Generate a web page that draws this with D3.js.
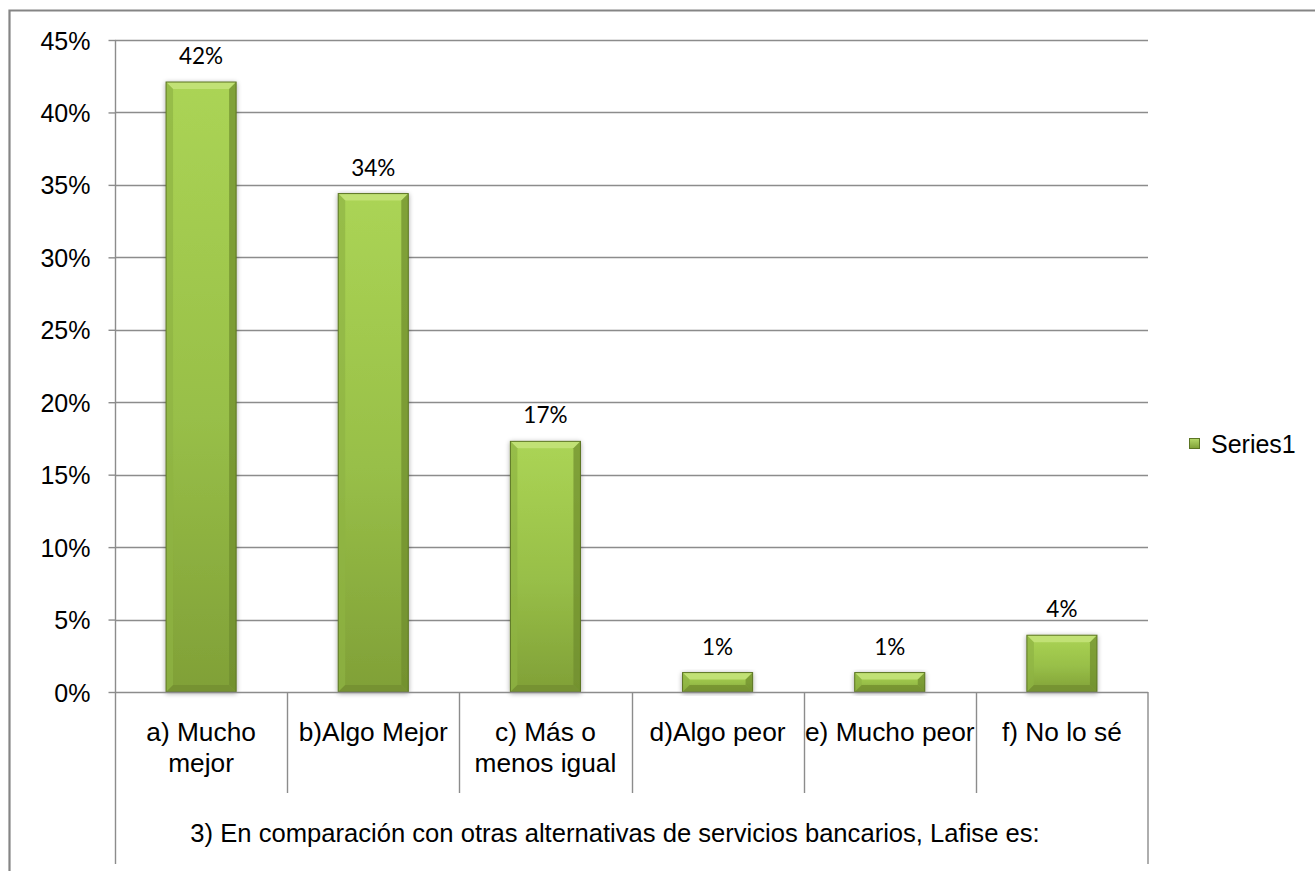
<!DOCTYPE html>
<html>
<head>
<meta charset="utf-8">
<script src="https://cdn.jsdelivr.net/npm/d3@7/dist/d3.min.js"></script>
<style>
  html, body { margin: 0; padding: 0; background: #fff; }
  svg { display: block; }
</style>
</head>
<body>
<svg id="chart" width="1315" height="871"></svg>
<script>
// ---- data ----
const categories = ["a) Mucho mejor", "b)Algo Mejor", "c) Más o menos igual", "d)Algo peor", "e) Mucho peor", "f) No lo sé"];
const categoryLines = [["a) Mucho", "mejor"], ["b)Algo Mejor"], ["c) Más o", "menos igual"], ["d)Algo peor"], ["e) Mucho peor"], ["f) No lo sé"]];
const values = [0.421, 0.344, 0.173, 0.0134, 0.0134, 0.0392];
const dataLabels = ["42%", "34%", "17%", "1%", "1%", "4%"];
const yTicks = [0, 0.05, 0.10, 0.15, 0.20, 0.25, 0.30, 0.35, 0.40, 0.45];
const seriesName = "Series1";
const axisTitle = "3) En comparación con otras alternativas de servicios bancarios, Lafise es:";

// ---- layout ----
const plotLeft = 115, plotRight = 1148, plotTop = 40, plotBottom = 692;
const svg = d3.select("#chart");
const gridColor = "#8c8c8c";
const axisFont = "'Liberation Sans', Arial, sans-serif";
const labelFont = "Lato, 'Open Sans', sans-serif";

const y = d3.scaleLinear().domain([0, 0.45]).range([plotBottom, plotTop]);
const xCat = d3.scaleBand().domain(categories).range([plotLeft, plotRight]).padding(0);
const xBar = d3.scaleBand().domain(categories).range([plotLeft, plotRight]).paddingInner(0.593).paddingOuter(0.2965);

// defs
const defs = svg.append("defs");
const g1 = defs.append("linearGradient").attr("id", "face").attr("x1", 0).attr("y1", 0).attr("x2", 0).attr("y2", 1);
g1.append("stop").attr("offset", "0%").attr("stop-color", "#abd455");
g1.append("stop").attr("offset", "55%").attr("stop-color", "#98bf48");
g1.append("stop").attr("offset", "100%").attr("stop-color", "#80a037");
const g2 = defs.append("linearGradient").attr("id", "leg").attr("x1", 0).attr("y1", 0).attr("x2", 0).attr("y2", 1);
g2.append("stop").attr("offset", "0%").attr("stop-color", "#b5d96a");
g2.append("stop").attr("offset", "100%").attr("stop-color", "#7f9f36");
const sh = defs.append("filter").attr("id", "shadow").attr("x", "-20%").attr("y", "-20%").attr("width", "140%").attr("height", "140%");
sh.append("feGaussianBlur").attr("in", "SourceAlpha").attr("stdDeviation", 2.5).attr("result", "b");
sh.append("feOffset").attr("in", "b").attr("dx", 0).attr("dy", 1).attr("result", "o");
sh.append("feComponentTransfer").attr("in", "o").attr("result", "s").append("feFuncA").attr("type", "linear").attr("slope", 0.35);
const fm = sh.append("feMerge");
fm.append("feMergeNode").attr("in", "s");
fm.append("feMergeNode").attr("in", "SourceGraphic");

// outer chart border (extends past the right and bottom edges)
svg.append("path").attr("d", "M9.5,871V10.5H1315")
  .attr("fill", "none").attr("stroke", "#858585").attr("stroke-width", 2.2);

// gridlines
svg.append("g").selectAll("line").data(yTicks.slice(1)).join("line")
  .attr("x1", plotLeft).attr("x2", plotRight)
  .attr("y1", d => Math.round(y(d)) + 0.5).attr("y2", d => Math.round(y(d)) + 0.5)
  .attr("stroke", gridColor).attr("stroke-width", 1.4);

// y axis
const yAxis = d3.axisLeft(y).tickValues(yTicks).tickFormat(d3.format(".0%")).tickSize(7).tickPadding(18);
const ya = svg.append("g").attr("transform", `translate(${plotLeft + 0.5},0)`).call(yAxis);
ya.select(".domain").remove();
ya.selectAll(".tick line").attr("stroke", gridColor).attr("stroke-width", 1.4);
ya.selectAll(".tick text").attr("font-family", axisFont).attr("font-size", 25).attr("fill", "#000").attr("dy", "0.36em");

// left axis line extended down through multi-level category area
svg.append("line").attr("x1", plotLeft + 0.5).attr("x2", plotLeft + 0.5).attr("y1", plotTop).attr("y2", 864)
  .attr("stroke", gridColor).attr("stroke-width", 1.4);
svg.append("line").attr("x1", plotRight).attr("x2", plotRight).attr("y1", plotBottom).attr("y2", 864)
  .attr("stroke", gridColor).attr("stroke-width", 1.4);

// category dividers
const bounds = categories.map(c => xCat(c)).concat([plotRight]);
svg.append("g").selectAll("line").data(bounds.slice(1, -1)).join("line")
  .attr("x1", d => Math.round(d) + 0.5).attr("x2", d => Math.round(d) + 0.5)
  .attr("y1", plotBottom).attr("y2", 793)
  .attr("stroke", gridColor).attr("stroke-width", 1.4);

// bars
const bars = svg.append("g");
categories.forEach((c, i) => {
  const x0 = xBar(c), w = xBar.bandwidth();
  const top = y(values[i]), bot = y(0);
  const h = bot - top;
  const b = Math.min(7, h / 2.6);
  const g = bars.append("g").attr("filter", "url(#shadow)");
  g.append("rect").attr("x", x0).attr("y", top).attr("width", w).attr("height", h).attr("fill", "url(#face)");
  g.append("path").attr("d", `M${x0},${top}L${x0 + w},${top}L${x0 + w - b},${top + b}L${x0 + b},${top + b}Z`).attr("fill", "#c2e277").attr("opacity", 0.95);
  g.append("path").attr("d", `M${x0},${top}L${x0 + b},${top + b}L${x0 + b},${bot - b}L${x0},${bot}Z`).attr("fill", "#8fb443").attr("opacity", 0.7);
  g.append("path").attr("d", `M${x0 + w},${top}L${x0 + w - b},${top + b}L${x0 + w - b},${bot - b}L${x0 + w},${bot}Z`).attr("fill", "#6e8c2c").attr("opacity", 0.7);
  g.append("path").attr("d", `M${x0},${bot}L${x0 + b},${bot - b}L${x0 + w - b},${bot - b}L${x0 + w},${bot}Z`).attr("fill", "#738f30").attr("opacity", 0.8);
  g.append("rect").attr("x", x0).attr("y", top).attr("width", w).attr("height", h).attr("fill", "none")
    .attr("stroke", "#5c7524").attr("stroke-width", 1);
});

// x axis baseline
svg.append("line").attr("x1", plotLeft).attr("x2", plotRight).attr("y1", plotBottom + 0.5).attr("y2", plotBottom + 0.5)
  .attr("stroke", gridColor).attr("stroke-width", 1.4);

// data labels
svg.append("g").selectAll("text").data(categories).join("text")
  .attr("x", c => xBar(c) + xBar.bandwidth() / 2)
  .attr("y", (c, i) => y(values[i]) - 18)
  .attr("text-anchor", "middle").attr("font-family", labelFont).attr("font-size", 22.5).attr("fill", "#000")
  .text((c, i) => dataLabels[i]);

// category labels
const cl = svg.append("g");
categories.forEach((c, i) => {
  const cx = xCat(c) + xCat.bandwidth() / 2;
  const t = cl.append("text").attr("x", cx).attr("y", 741)
    .attr("text-anchor", "middle").attr("font-family", axisFont).attr("font-size", 26.3).attr("fill", "#000");
  categoryLines[i].forEach((ln, j) => {
    t.append("tspan").attr("x", cx).attr("y", 741 + j * 31).text(ln);
  });
});

// outer category title
svg.append("text").attr("x", 615).attr("y", 842).attr("text-anchor", "middle")
  .attr("font-family", axisFont).attr("font-size", 25.6).attr("fill", "#000").text(axisTitle);

// legend
svg.append("rect").attr("x", 1189.5).attr("y", 438.5).attr("width", 10).attr("height", 10)
  .attr("fill", "url(#leg)").attr("stroke", "#5c7524").attr("stroke-width", 1);
svg.append("text").attr("x", 1211).attr("y", 453).attr("font-family", axisFont).attr("font-size", 25).attr("fill", "#000").text(seriesName);
</script>
</body>
</html>
